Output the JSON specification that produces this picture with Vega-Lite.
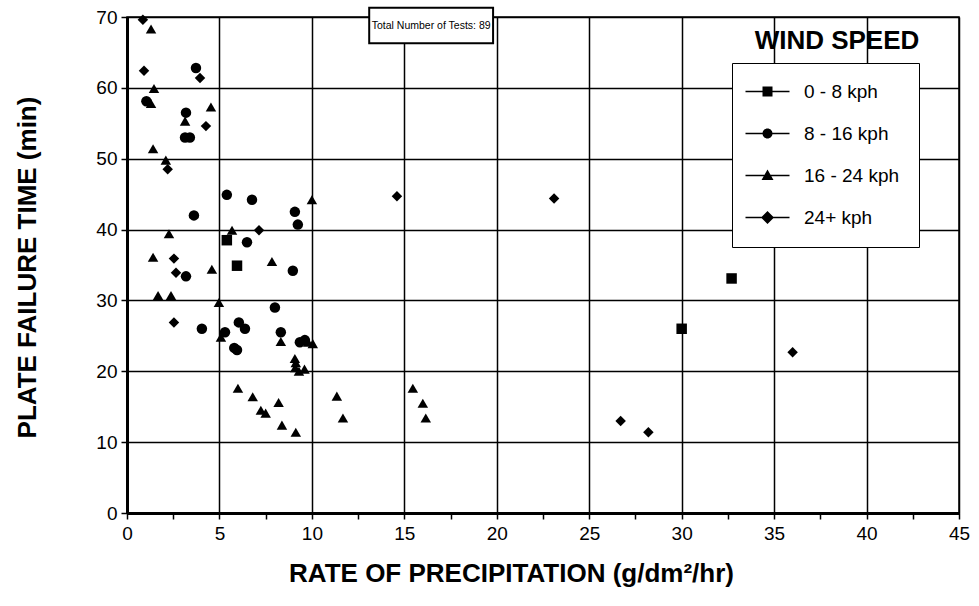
{
  "$schema": "https://vega.github.io/schema/vega-lite/v6.json",
  "width": 832,
  "height": 496,
  "autosize": "none",
  "padding": {"left": 127, "top": 17, "right": 20, "bottom": 93},
  "background": "white",
  "config": {
    "view": {"stroke": "black", "strokeWidth": 1.5},
    "font": "Liberation Sans",
    "axis": {
      "domainColor": "black", "domainWidth": 3,
      "tickColor": "black", "tickWidth": 1.5, "tickSize": 6,
      "gridColor": "black", "gridWidth": 1.5,
      "labelColor": "black", "labelFontSize": 19, "labelFont": "Liberation Sans",
      "titleFont": "Liberation Sans", "titleFontSize": 26, "titleFontWeight": "bold", "titleColor": "black",
      "labelOverlap": false
    }
  },
  "data": {
    "values": [
      {"rate": 5.4, "time": 38.5, "wind": "0 - 8 kph"},
      {"rate": 5.95, "time": 34.9, "wind": "0 - 8 kph"},
      {"rate": 30.0, "time": 26.0, "wind": "0 - 8 kph"},
      {"rate": 32.7, "time": 33.1, "wind": "0 - 8 kph"},
      {"rate": 1.05, "time": 58.1, "wind": "8 - 16 kph"},
      {"rate": 3.73, "time": 62.8, "wind": "8 - 16 kph"},
      {"rate": 3.19, "time": 56.5, "wind": "8 - 16 kph"},
      {"rate": 3.14, "time": 53.0, "wind": "8 - 16 kph"},
      {"rate": 3.4, "time": 53.0, "wind": "8 - 16 kph"},
      {"rate": 5.4, "time": 44.9, "wind": "8 - 16 kph"},
      {"rate": 6.76, "time": 44.2, "wind": "8 - 16 kph"},
      {"rate": 9.08, "time": 42.5, "wind": "8 - 16 kph"},
      {"rate": 3.62, "time": 42.0, "wind": "8 - 16 kph"},
      {"rate": 9.24, "time": 40.7, "wind": "8 - 16 kph"},
      {"rate": 6.49, "time": 38.2, "wind": "8 - 16 kph"},
      {"rate": 8.97, "time": 34.2, "wind": "8 - 16 kph"},
      {"rate": 3.19, "time": 33.4, "wind": "8 - 16 kph"},
      {"rate": 8.0, "time": 29.0, "wind": "8 - 16 kph"},
      {"rate": 4.05, "time": 26.0, "wind": "8 - 16 kph"},
      {"rate": 6.05, "time": 26.9, "wind": "8 - 16 kph"},
      {"rate": 6.38, "time": 26.0, "wind": "8 - 16 kph"},
      {"rate": 5.3, "time": 25.5, "wind": "8 - 16 kph"},
      {"rate": 8.32, "time": 25.5, "wind": "8 - 16 kph"},
      {"rate": 9.35, "time": 24.1, "wind": "8 - 16 kph"},
      {"rate": 9.62, "time": 24.4, "wind": "8 - 16 kph"},
      {"rate": 5.8, "time": 23.3, "wind": "8 - 16 kph"},
      {"rate": 5.95, "time": 23.0, "wind": "8 - 16 kph"},
      {"rate": 1.3, "time": 68.3, "wind": "16 - 24 kph"},
      {"rate": 1.46, "time": 59.9, "wind": "16 - 24 kph"},
      {"rate": 1.3, "time": 57.8, "wind": "16 - 24 kph"},
      {"rate": 4.54, "time": 57.3, "wind": "16 - 24 kph"},
      {"rate": 3.14, "time": 55.3, "wind": "16 - 24 kph"},
      {"rate": 1.41, "time": 51.4, "wind": "16 - 24 kph"},
      {"rate": 2.1, "time": 49.8, "wind": "16 - 24 kph"},
      {"rate": 10.0, "time": 44.2, "wind": "16 - 24 kph"},
      {"rate": 2.27, "time": 39.4, "wind": "16 - 24 kph"},
      {"rate": 5.68, "time": 39.9, "wind": "16 - 24 kph"},
      {"rate": 1.41, "time": 36.1, "wind": "16 - 24 kph"},
      {"rate": 7.84, "time": 35.5, "wind": "16 - 24 kph"},
      {"rate": 4.59, "time": 34.4, "wind": "16 - 24 kph"},
      {"rate": 1.68, "time": 30.7, "wind": "16 - 24 kph"},
      {"rate": 2.38, "time": 30.7, "wind": "16 - 24 kph"},
      {"rate": 4.97, "time": 29.7, "wind": "16 - 24 kph"},
      {"rate": 5.08, "time": 24.8, "wind": "16 - 24 kph"},
      {"rate": 8.32, "time": 24.2, "wind": "16 - 24 kph"},
      {"rate": 9.8, "time": 24.1, "wind": "16 - 24 kph"},
      {"rate": 10.05, "time": 23.9, "wind": "16 - 24 kph"},
      {"rate": 9.08, "time": 21.8, "wind": "16 - 24 kph"},
      {"rate": 9.13, "time": 21.2, "wind": "16 - 24 kph"},
      {"rate": 9.1, "time": 20.5, "wind": "16 - 24 kph"},
      {"rate": 9.3, "time": 20.0, "wind": "16 - 24 kph"},
      {"rate": 9.6, "time": 20.3, "wind": "16 - 24 kph"},
      {"rate": 6.0, "time": 17.6, "wind": "16 - 24 kph"},
      {"rate": 6.8, "time": 16.4, "wind": "16 - 24 kph"},
      {"rate": 7.24, "time": 14.5, "wind": "16 - 24 kph"},
      {"rate": 7.5, "time": 14.1, "wind": "16 - 24 kph"},
      {"rate": 8.2, "time": 15.6, "wind": "16 - 24 kph"},
      {"rate": 8.38, "time": 12.4, "wind": "16 - 24 kph"},
      {"rate": 9.13, "time": 11.4, "wind": "16 - 24 kph"},
      {"rate": 11.35, "time": 16.5, "wind": "16 - 24 kph"},
      {"rate": 11.68, "time": 13.4, "wind": "16 - 24 kph"},
      {"rate": 15.46, "time": 17.6, "wind": "16 - 24 kph"},
      {"rate": 16.0, "time": 15.5, "wind": "16 - 24 kph"},
      {"rate": 16.16, "time": 13.4, "wind": "16 - 24 kph"},
      {"rate": 0.86, "time": 69.6, "wind": "24+ kph"},
      {"rate": 0.92, "time": 62.4, "wind": "24+ kph"},
      {"rate": 3.95, "time": 61.4, "wind": "24+ kph"},
      {"rate": 4.27, "time": 54.6, "wind": "24+ kph"},
      {"rate": 2.2, "time": 48.5, "wind": "24+ kph"},
      {"rate": 7.14, "time": 39.9, "wind": "24+ kph"},
      {"rate": 2.54, "time": 35.9, "wind": "24+ kph"},
      {"rate": 2.65, "time": 33.9, "wind": "24+ kph"},
      {"rate": 2.54, "time": 26.9, "wind": "24+ kph"},
      {"rate": 14.6, "time": 44.7, "wind": "24+ kph"},
      {"rate": 23.1, "time": 44.4, "wind": "24+ kph"},
      {"rate": 36.0, "time": 22.7, "wind": "24+ kph"},
      {"rate": 26.7, "time": 13.0, "wind": "24+ kph"},
      {"rate": 28.2, "time": 11.4, "wind": "24+ kph"}
    ]
  },
  "resolve": {"scale": {"shape": "independent"}, "legend": {"shape": "independent"}},
  "layer": [
    {
      "mark": {"type": "point", "filled": true, "size": 110, "color": "black", "opacity": 1},
      "encoding": {
        "x": {
          "field": "rate", "type": "quantitative",
          "scale": {"domain": [0, 45], "nice": false},
          "axis": {
            "title": "RATE OF PRECIPITATION (g/dm²/hr)",
            "values": [0, 2.5, 5, 7.5, 10, 12.5, 15, 17.5, 20, 22.5, 25, 27.5, 30, 32.5, 35, 37.5, 40, 42.5, 45],
            "labelExpr": "datum.value % 5 === 0 ? datum.label : ''",
            "gridOpacity": {"condition": {"test": "datum.value % 5 === 0", "value": 1}, "value": 0},
            "labelPadding": 5,
            "labelFlush": false,
            "titleX": 384,
            "titleY": 60,
            "titleAlign": "center",
            "titleBaseline": "middle"
          }
        },
        "y": {
          "field": "time", "type": "quantitative",
          "scale": {"domain": [0, 70], "nice": false},
          "axis": {
            "title": "PLATE FAILURE TIME (min)",
            "values": [0, 5, 10, 15, 20, 25, 30, 35, 40, 45, 50, 55, 60, 65, 70],
            "labelExpr": "datum.value % 10 === 0 ? datum.label : ''",
            "gridOpacity": {"condition": {"test": "datum.value % 10 === 0", "value": 1}, "value": 0},
            "labelPadding": 4,
            "labelFlush": false,
            "titleX": -100,
            "titleY": 250,
            "titleAlign": "center",
            "titleBaseline": "middle"
          }
        },
        "shape": {
          "field": "wind", "type": "nominal",
          "scale": {
            "domain": ["0 - 8 kph", "8 - 16 kph", "16 - 24 kph", "24+ kph"],
            "range": ["square", "circle", "triangle-up", "diamond"]
          },
          "legend": null
        }
      }
    },
    {
      "mark": {"type": "point", "filled": true, "color": "black", "size": 100, "opacity": 0},
      "encoding": {
        "x": {"field": "rate", "type": "quantitative"},
        "y": {"field": "time", "type": "quantitative"},
        "shape": {
          "field": "wind", "type": "nominal",
          "scale": {
            "domain": ["0 - 8 kph", "8 - 16 kph", "16 - 24 kph", "24+ kph"],
            "range": [
              "M-4.4,-0.14H4.4V0.14H-4.4ZM-1,-1H1V1H-1Z",
              "M-4.4,-0.14H4.4V0.14H-4.4ZM-1,0A1,1,0,1,1,1,0A1,1,0,1,1,-1,0Z",
              "M-4.4,-0.14H4.4V0.14H-4.4ZM0,-1.2L1.2,0.9H-1.2Z",
              "M-4.4,-0.14H4.4V0.14H-4.4ZM0,-1.3L1.3,0L0,1.3L-1.3,0Z"
            ]
          },
          "legend": {
            "orient": "none",
            "legendX": 605,
            "legendY": 46,
            "title": null,
            "direction": "vertical",
            "strokeColor": "black",
            "fillColor": "white",
            "padding": 19,
            "labelFont": "Liberation Sans",
            "labelFontSize": 19,
            "labelColor": "black",
            "symbolSize": 100,
            "symbolOpacity": 1,
            "symbolFillColor": "black",
            "symbolOffset": 7,
            "labelOffset": 27,
            "rowPadding": 22
          }
        }
      }
    },
    {
      "data": {"values": [{}]},
      "mark": {"type": "rect", "fill": "white", "stroke": "black", "strokeWidth": 2},
      "encoding": {
        "x": {"datum": 13.1, "type": "quantitative"},
        "x2": {"datum": 19.8},
        "y": {"datum": 71.3, "type": "quantitative"},
        "y2": {"datum": 66.3}
      }
    },
    {
      "data": {"values": [{"label": "Total Number of Tests: 89"}]},
      "mark": {"type": "text", "font": "Liberation Sans", "fontSize": 10.5, "color": "black", "align": "center", "baseline": "middle"},
      "encoding": {
        "x": {"datum": 16.45, "type": "quantitative"},
        "y": {"datum": 68.8, "type": "quantitative"},
        "text": {"field": "label"}
      }
    },
    {
      "data": {"values": [{"label": "WIND SPEED"}]},
      "mark": {"type": "text", "font": "Liberation Sans", "fontSize": 26, "fontWeight": "bold", "color": "black", "align": "center", "baseline": "middle"},
      "encoding": {
        "x": {"datum": 38.4, "type": "quantitative"},
        "y": {"datum": 66.6, "type": "quantitative"},
        "text": {"field": "label"}
      }
    }
  ]
}
